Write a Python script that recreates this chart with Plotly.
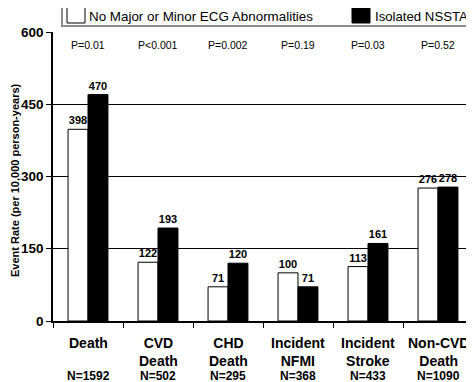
import plotly.graph_objects as go

categories = ["Death", "CVD Death", "CHD Death", "Incident NFMI", "Incident Stroke", "Non-CVD Death"]
cat_labels = ["Death", "CVD<br>Death", "CHD<br>Death", "Incident<br>NFMI", "Incident<br>Stroke", "Non-CVD<br>Death"]
n_labels = ["N=1592", "N=502", "N=295", "N=368", "N=433", "N=1090"]
p_labels = ["P=0.01", "P<0.001", "P=0.002", "P=0.19", "P=0.03", "P=0.52"]
no_abn = [398, 122, 71, 100, 113, 276]
nssta = [470, 193, 120, 71, 161, 278]
y_ticks = [0, 150, 300, 450, 600]
series_names = ["No Major or Minor ECG Abnormalities", "Isolated NSSTA"]
y_title = "Event Rate (per 10,000 person-years)"

FONT = "Arial, Liberation Sans, sans-serif"
# page has an 8px body margin; figure sized so it ends at the window edge
OFF = 8
W, H = 474 - OFF, 382 - OFF
ML, MR, MT, MB = 53 - OFF, 1, 32 - OFF, 61
PW, PH = W - ML - MR, H - MT - MB


def px_x(p):  # page pixel -> paper x
    return (p - OFF - ML) / PW


def px_y(p):  # page pixel -> paper y
    return (H - MB - (p - OFF)) / PH


fig = go.Figure()
fig.add_trace(go.Bar(
    x=categories, y=no_abn, name=series_names[0],
    marker=dict(color="white", line=dict(color="black", width=1)),
    text=[f"<b>{v}</b>" for v in no_abn], textposition="outside",
    textfont=dict(size=11, color="black", family=FONT), cliponaxis=False,
))
fig.add_trace(go.Bar(
    x=categories, y=nssta, name=series_names[1],
    marker=dict(color="black", line=dict(color="black", width=1)),
    text=[f"<b>{v}</b>" for v in nssta], textposition="outside",
    textfont=dict(size=11, color="black", family=FONT), cliponaxis=False,
))

annotations = []
for c, lab, n, p in zip(categories, cat_labels, n_labels, p_labels):
    annotations.append(dict(x=c, y=0, xref="x", yref="paper", yanchor="top", yshift=-12,
                            text=f"<b>{lab}</b>", showarrow=False,
                            font=dict(size=14, color="black", family=FONT)))
    annotations.append(dict(x=c, y=0, xref="x", yref="paper", yanchor="top", yshift=-46,
                            text=f"<b>{n}</b>", showarrow=False,
                            font=dict(size=12, color="black", family=FONT)))
    annotations.append(dict(x=c, y=573, xref="x", yref="y", yanchor="middle",
                            text=p, showarrow=False,
                            font=dict(size=10.5, color="black", family=FONT)))

# y-axis title
annotations.append(dict(x=px_x(15), y=px_y(180), xref="paper", yref="paper", xanchor="center",
                        yanchor="middle", textangle=-90, text=f"<b>{y_title}</b>", showarrow=False,
                        font=dict(size=11, color="black", family=FONT)))

# manual legend (box + swatches + labels)
shapes = [
    dict(type="rect", xref="paper", yref="paper", x0=px_x(62), x1=px_x(472),
         y0=px_y(26), y1=px_y(-4), line=dict(color="#8a8a8a", width=2), fillcolor="white",
         layer="below"),
    dict(type="rect", xref="paper", yref="paper", x0=px_x(67), x1=px_x(85),
         y0=px_y(23), y1=px_y(6), line=dict(color="black", width=1), fillcolor="white"),
    dict(type="rect", xref="paper", yref="paper", x0=px_x(352), x1=px_x(370),
         y0=px_y(23), y1=px_y(6), line=dict(color="black", width=1), fillcolor="black"),
    dict(type="line", xref="paper", yref="paper", x0=px_x(472), x1=px_x(472), y0=0, y1=1,
         line=dict(color="#888888", width=2)),
]
annotations.append(dict(x=px_x(87), y=px_y(16), xref="paper", yref="paper", xanchor="left",
                        yanchor="middle", text=series_names[0], showarrow=False,
                        font=dict(size=13.4, color="black", family=FONT)))
annotations.append(dict(x=px_x(373), y=px_y(16), xref="paper", yref="paper", xanchor="left",
                        yanchor="middle", text=series_names[1], showarrow=False,
                        font=dict(size=13.2, color="black", family=FONT)))

fig.update_layout(
    width=W, height=H,
    margin=dict(l=ML, r=MR, t=MT, b=MB, autoexpand=False),
    paper_bgcolor="white", plot_bgcolor="white",
    barmode="group", bargap=0.43, bargroupgap=0,
    font=dict(family=FONT, color="black"),
    showlegend=False,
    annotations=annotations,
    shapes=shapes,
)
fig.update_xaxes(showline=True, linecolor="black", linewidth=1.5, ticks="outside",
                 tickson="boundaries", ticklen=5, tickcolor="black", showticklabels=False,
                 showgrid=False, automargin=False)
fig.update_yaxes(range=[0, 600], tickvals=y_ticks, ticktext=[f"<b>{t}</b>" for t in y_ticks],
                 showgrid=True, gridcolor="black", gridwidth=1,
                 showline=True, linecolor="black", linewidth=1.5,
                 ticks="outside", ticklen=5, tickcolor="black",
                 tickfont=dict(size=13.5, color="black", family=FONT),
                 zeroline=False, automargin=False)

fig.write_html("out.html")
